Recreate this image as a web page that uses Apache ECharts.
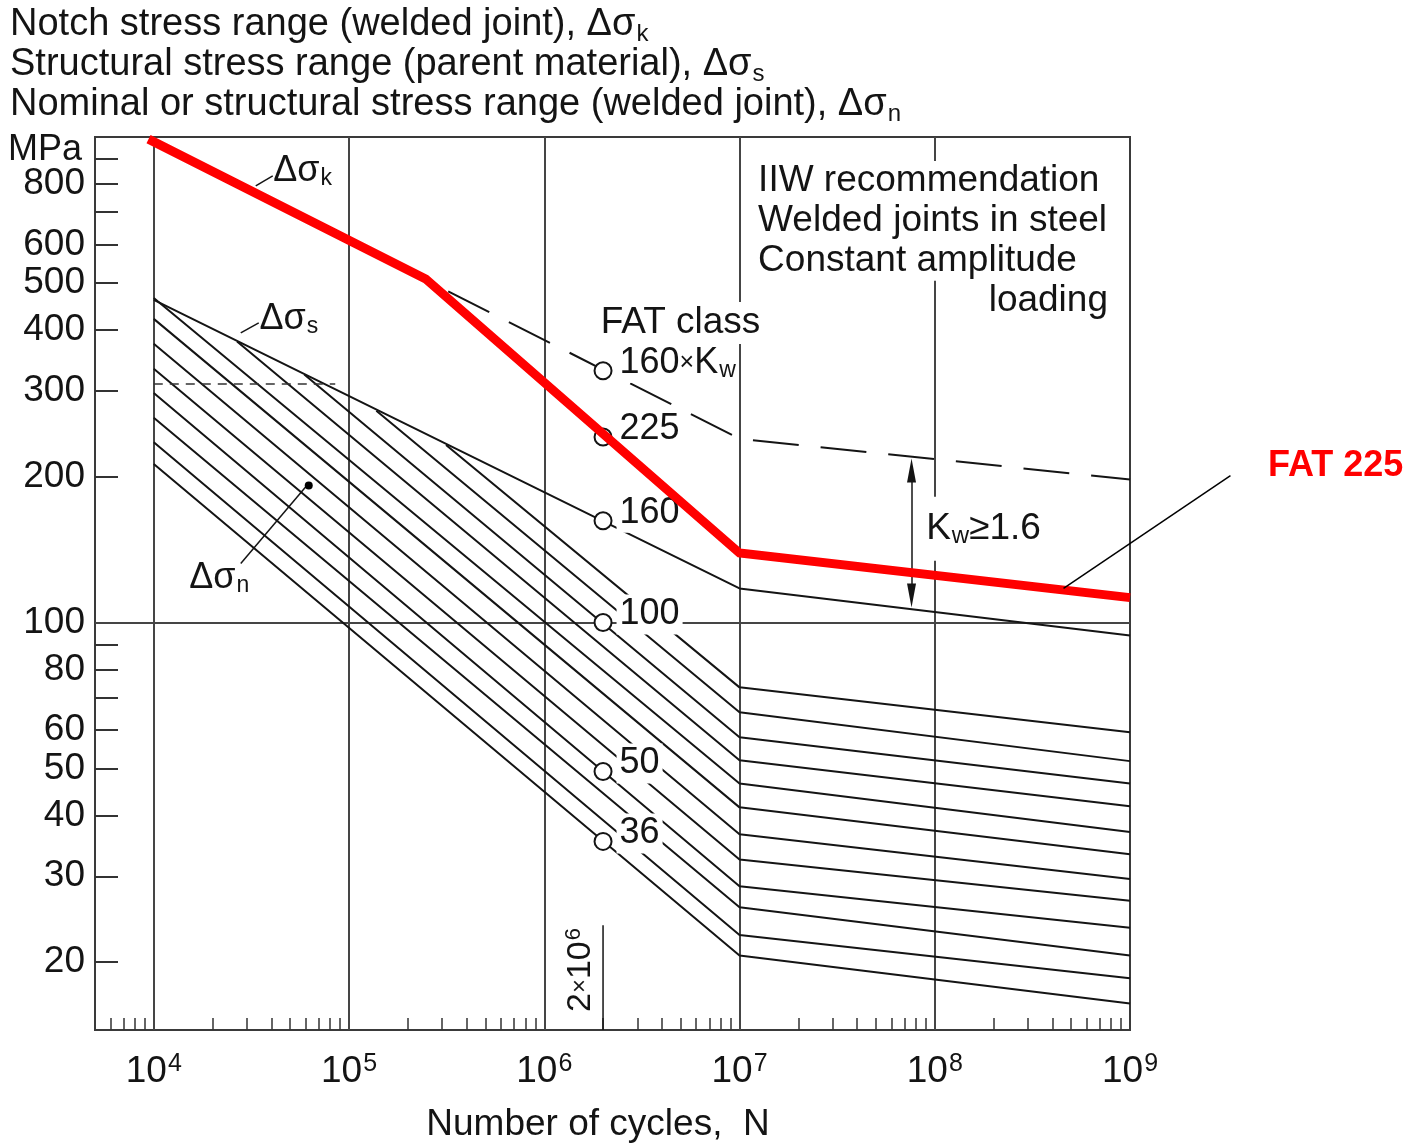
<!DOCTYPE html>
<html>
<head>
<meta charset="utf-8">
<script src="https://cdn.jsdelivr.net/npm/echarts@6/dist/echarts.min.js"></script>
<style>html,body{margin:0;padding:0;background:#fff}#c{width:1408px;height:1145px}</style>
</head>
<body>
<div id="c"></div>
<script>
// ---------------- data ----------------
// Nominal stress FAT family (Δσn): start point, knee at 1e7, end at 1e9
const famClass  = [125, 112, 100, 90, 80, 71, 63, 56, 50, 45, 40, 36];
const famStartN = [3.14e5, 1.38e5, 5.9e4, 2.67e4, 1e4, 1e4, 1e4, 1e4, 1e4, 1e4, 1e4, 1e4];
const famStartS = [232, 273, 324, 379, 466, 422, 375, 333, 297, 264, 235, 212];
const famKneeN  = 1e7;
const famKneeS  = [73.5, 65.3, 58.0, 52.0, 46.6, 41.6, 36.6, 32.5, 28.6, 25.9, 22.7, 20.6];
const famEndN   = 1e9;
const famEndS   = [59.4, 51.8, 46.6, 41.8, 37.0, 33.3, 29.6, 26.7, 23.5, 20.6, 18.5, 16.4];
// Structural stress (parent material) Δσs
const structN = [1e4, 1e7, 1e9];
const structS = [462, 117.5, 94];
// Notch stress Δσk (160 x Kw), dashed
const notchN = [1e4, 1e7, 1e9];
const notchS = [975, 239, 197];
// Red FAT 225 overlay
const fat225N = [9.4e3, 2.47e5, 1e7, 1e9];
const fat225S = [990, 510, 139, 112.5];
// short dashed cut-off line
const cutN = [1e4, 8.5e4];
const cutS = [310, 310];
// reference points at 2e6 cycles
const refN = 2e6;
const refS = [330, 241, 162, 100, 49.3, 35.4];
const refLabels = ['160{x|×}K{sub|w}', '225', '160', '100', '50', '36'];
// axes
const xLabelExps = [4, 5, 6, 7, 8, 9];
const xMinorMant = [2, 3, 4, 5, 6, 7, 8, 9];
const yLabels = [20, 30, 40, 50, 60, 80, 100, 200, 300, 400, 500, 600, 800];
const yTicks  = [20, 30, 40, 50, 60, 70, 80, 90, 200, 300, 400, 500, 600, 700, 800, 900];
const gridDecades = [1e4, 1e5, 1e6, 1e7, 1e8];
const gridStress = [100];

// ---------------- build ----------------
const L = Math.log10;
const FONT = '"Liberation Sans", Arial, Helvetica, sans-serif';
const INK = '#141414';
const xMin = L(5000), xMax = 9, yMin = L(14.47), yMax = 3;

const xMinorTicks = [];
for (let e = 3; e <= 8; e++) {
  for (const m of xMinorMant) {
    const v = L(m * Math.pow(10, e));
    if (v > xMin + 1e-6 && v < xMax - 1e-6) xMinorTicks.push(v);
  }
}
const pts = (Ns, Ss) => Ns.map((n, i) => [L(n), L(Ss[i])]);
const lineS = (name, data, style, z, extra) => Object.assign({
  type: 'line', name, data, symbol: 'none', silent: true, z, lineStyle: style, animation: false
}, extra || {});

const subRich = (fs, lh) => {
  const s = Math.round(fs * 0.64), p = Math.round(fs * 0.66);
  return {
    sub: {fontSize: s, lineHeight: s, padding: [lh - s, 0, 0, 1], fontFamily: FONT, color: INK},
    x: {fontSize: Math.round(fs * 0.7), lineHeight: lh, fontFamily: FONT, color: INK},
    sup: {fontSize: p, lineHeight: p, padding: [0, 0, lh - p, 1], fontFamily: FONT, color: INK}
  };
};

const series = [];

// grid lines
series.push({
  type: 'line', data: [], silent: true, z: 1,
  markLine: {
    silent: true, symbol: 'none', animation: false, z: 1,
    label: {show: false},
    lineStyle: {color: '#454545', width: 2, type: 'solid'},
    data: gridDecades.map(n => ({xAxis: L(n)})).concat(gridStress.map(s => ({yAxis: L(s)})))
  }
});

// FAT family
famClass.forEach((c, i) => {
  series.push(lineS('FAT ' + c, [
    [L(famStartN[i]), L(famStartS[i])],
    [L(famKneeN), L(famKneeS[i])],
    [L(famEndN), L(famEndS[i])]
  ], {color: INK, width: 2}, 3));
});
// structural
series.push(lineS('Δσs', pts(structN, structS), {color: INK, width: 2}, 3));
// notch dashed
series.push(lineS('Δσk', pts(notchN, notchS), {color: INK, width: 2, type: [46, 22], dashOffset: 10}, 3));
// cut-off dashed
series.push(lineS('cut', pts(cutN, cutS), {color: '#333', width: 1.5, type: [9, 7]}, 3));

// leaders
const leader = (a, b) => lineS('leader', [a, b], {color: INK, width: 1.5}, 4);
series.push(leader([4.5223, 2.8992], [4.6093, 2.9198]));
series.push(leader([4.4455, 2.5967], [4.5376, 2.6173]));
series.push(leader([4.4455, 2.1214], [4.7885, 2.2840]));
series.push(leader([L(2e6), 1.3765], [L(2e6), yMin]));
// dot
series.push({type: 'scatter', data: [[4.7937, 2.2819]], symbol: 'circle', symbolSize: 8, itemStyle: {color: '#000', opacity: 1}, z: 4, silent: true, animation: false});

// double arrow (Kw)
series.push({
  type: 'line', data: [], silent: true, z: 4,
  markLine: {
    silent: true, animation: false, z: 4,
    symbol: ['triangle', 'triangle'], symbolSize: [9, 24],
    label: {show: false},
    lineStyle: {color: INK, width: 1.5, type: 'solid', opacity: 1},
    itemStyle: {color: INK},
    data: [[{coord: [7.881, 2.3128]}, {coord: [7.881, 2.0556]}]]
  }
});

// reference circles
series.push({
  type: 'scatter', z: 8, silent: true, animation: false,
  symbol: 'circle', symbolSize: 17,
  itemStyle: {color: '#fff', borderColor: INK, borderWidth: 2, opacity: 1},
  label: {
    show: true, position: 'right', distance: 4, offset: [0, -8],
    fontFamily: FONT, fontSize: 36, lineHeight: 38, color: INK,
    backgroundColor: '#fff', padding: [1, 3],
    rich: subRich(36, 38)
  },
  data: refS.map((s, i) => ({value: [L(refN), L(s)], label: {formatter: refLabels[i]}}))
});

// annotations
const ann = (x, y, text, lab) => ({
  value: [x, y],
  label: Object.assign({
    show: true, formatter: text, position: 'right', distance: 0,
    fontFamily: FONT, fontSize: 36, lineHeight: 38, color: INK,
    backgroundColor: '#fff', padding: [1, 3], rich: subRich(36, 38)
  }, lab || {})
});
const blk = {fontSize: 37, lineHeight: 40, padding: [0, 2], rich: subRich(37, 40)};
series.push({
  type: 'scatter', z: 10, silent: true, animation: false,
  symbolSize: 1, itemStyle: {color: 'rgba(0,0,0,0)', opacity: 1},
  data: [
    ann(6.271, 2.617, 'FAT class', {fontSize: 37, lineHeight: 40, rich: subRich(37, 40)}),
    ann(4.594, 2.930, 'Δσ{sub|k}', {backgroundColor: 'transparent'}),
    ann(4.523, 2.6255, 'Δσ{sub|s}', {backgroundColor: 'transparent'}),
    ann(4.164, 2.0905, 'Δσ{sub|n}', {backgroundColor: 'transparent'}),
    ann(7.938, 2.193, 'K{sub|w}≥1.6', {fontSize: 37, lineHeight: 40, padding: [12, 3], rich: subRich(37, 40)}),
    ann(7.0824, 2.9095, 'IIW recommendation', blk),
    ann(7.0824, 2.8272, 'Welded joints in steel', blk),
    ann(7.0824, 2.7449, 'Constant amplitude', blk),
    ann(8.9001, 2.6626, 'loading', Object.assign({}, blk, {position: 'left'})),
    ann(6.1864, 1.284, '2{x|×}10{sup|6}', {position: 'inside', rotate: 90, backgroundColor: 'transparent', fontSize: 34, lineHeight: 36, rich: subRich(34, 36)})
  ]
});

// red FAT 225 line on top
series.push(lineS('FAT 225', pts(fat225N, fat225S), {color: '#ff0000', width: 9, join: 'miter'}, 20));

const hdrRich = {
  sub: {fontSize: 24, lineHeight: 24, padding: [18, 0, 0, 1], fontFamily: FONT, fill: INK}
};
const hdr = (id, y, text) => ({
  id, type: 'text', x: 10, y, silent: true,
  style: {text, fontSize: 38, fontFamily: FONT, fill: INK, verticalAlign: 'middle', lineHeight: 42, rich: hdrRich}
});

const option = {
  animation: false,
  backgroundColor: '#ffffff',
  grid: {left: 95, right: 278, top: 137, bottom: 115, show: true, borderColor: '#3a3a3a', borderWidth: 2, containLabel: false},
  xAxis: {
    type: 'value', min: xMin, max: xMax,
    axisLine: {show: false}, splitLine: {show: false},
    axisTick: {show: true, inside: true, length: 12, customValues: xMinorTicks, lineStyle: {color: '#333', width: 1.5}},
    axisLabel: {
      show: true, customValues: xLabelExps, margin: 22,
      formatter: v => '10{sup|' + Math.round(v) + '}',
      color: INK, fontFamily: FONT, fontSize: 37, lineHeight: 40,
      rich: {sup: {fontSize: 25, lineHeight: 25, padding: [0, 0, 15, 1], fontFamily: FONT, color: INK}}
    }
  },
  yAxis: {
    type: 'value', min: yMin, max: yMax,
    axisLine: {show: false}, splitLine: {show: false},
    axisTick: {show: true, inside: true, length: 23, customValues: yTicks.map(L), lineStyle: {color: '#333', width: 2}},
    axisLabel: {
      show: true, customValues: yLabels.map(L), margin: 10,
      formatter: v => String(Math.round(Math.pow(10, v))),
      color: INK, fontFamily: FONT, fontSize: 37
    }
  },
  graphic: [
    hdr('h1', 25, 'Notch stress range (welded joint), Δσ{sub|k}'),
    hdr('h2', 65, 'Structural stress range (parent material), Δσ{sub|s}'),
    hdr('h3', 105, 'Nominal or structural stress range (welded joint), Δσ{sub|n}'),
    {id: 'mpa', type: 'text', x: 8, y: 150, silent: true, style: {text: 'MPa', fontSize: 36, fontFamily: FONT, fill: INK, verticalAlign: 'middle'}},
    {id: 'xt', type: 'text', x: 598, y: 1125, silent: true, style: {text: 'Number of cycles,  N', fontSize: 37, fontFamily: FONT, fill: INK, align: 'center', verticalAlign: 'middle'}},
    {id: 'fat', type: 'text', x: 1268, y: 466, silent: true, style: {text: 'FAT 225', fontSize: 36, fontWeight: 'bold', fontFamily: FONT, fill: '#ff0000', verticalAlign: 'middle'}}
  ],
  series
};

const chart = echarts.init(document.getElementById('c'), null, {renderer: 'canvas'});
chart.setOption(option);
// leader from the red line to the outside "FAT 225" label, placed through the chart's own scales
const a = chart.convertToPixel({xAxisIndex: 0, yAxisIndex: 0}, [8.6595, 2.0700]);
const b = chart.convertToPixel({xAxisIndex: 0, yAxisIndex: 0}, [9.5146, 2.3025]);
chart.setOption({graphic: [{id: 'lead225', type: 'line', silent: true, z: 30,
  shape: {x1: a[0], y1: a[1], x2: b[0], y2: b[1]}, style: {stroke: '#000', lineWidth: 1.5}}]});
</script>
</body>
</html>
